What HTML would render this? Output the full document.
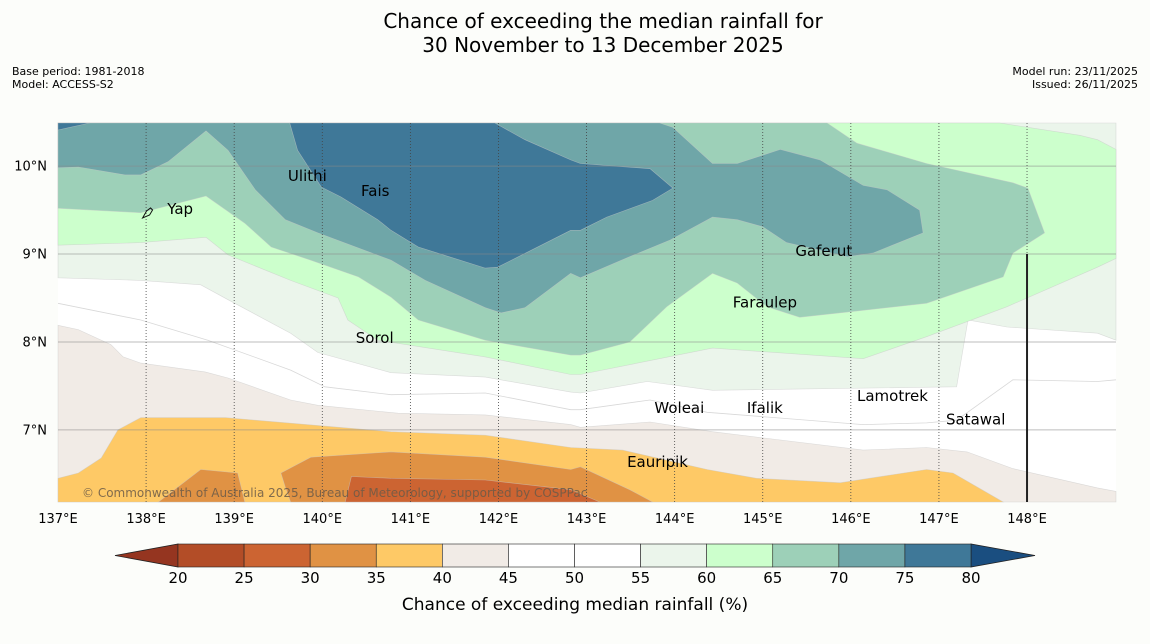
<!DOCTYPE html>
<html><head><meta charset="utf-8"><style>
html,body{margin:0;padding:0;background:#fcfdfa;}
svg{display:block;font-family:"DejaVu Sans","Liberation Sans",sans-serif;}
</style></head><body>
<svg id="chart" width="1150" height="644" viewBox="0 0 1150 644">
<rect width="1150" height="644" fill="#fcfdfa"/>
<text x="603" y="28" font-size="20" text-anchor="middle" fill="#000">Chance of exceeding the median rainfall for</text>
<text x="603" y="52" font-size="20" text-anchor="middle" fill="#000">30 November to 13 December 2025</text>
<text x="12" y="75" font-size="11" fill="#000">Base period: 1981-2018</text>
<text x="12" y="88" font-size="11" fill="#000">Model: ACCESS-S2</text>
<text x="1138" y="75" font-size="11" text-anchor="end" fill="#000">Model run: 23/11/2025</text>
<text x="1138" y="88" font-size="11" text-anchor="end" fill="#000">Issued: 26/11/2025</text>
<g id="map"></g>
<g id="cbar"></g>
</svg>
<script>
const NS="http://www.w3.org/2000/svg";
// axis extents
const lonMin=137, lonMax=149.01, latMin=6.18, latMax=10.49;
const lonTicks=[137,138,139,140,141,142,143,144,145,146,147,148];
const latTicks=[10,9,8,7];
const cbLevels=[20,25,30,35,40,45,50,55,60,65,70,75,80];
const cbColors=["#b34d27","#cc6432","#e09244","#fec966","#f1ebe6","#ffffff","#ffffff","#ebf5eb","#ccffcc","#9dd0b8","#6fa6a8","#3f7898"];
// contour regions [lon,lat]
const pale55=[[137,10.49],[149.01,10.49],[149.01,8.02],[148.80,8.10],[147.77,8.17],[147.33,8.25],[147.20,7.49],[144.43,7.45],[143.69,7.55],[142.93,7.42],[142.82,7.43],[141.85,7.60],[140.78,7.65],[139.95,7.88],[139.64,8.10],[138.93,8.48],[138.62,8.65],[137.94,8.70],[137,8.73]];
const green60=[[137,10.49],[147.69,10.49],[148.60,10.35],[148.80,10.30],[149.01,10.19],[149.01,8.95],[148.80,8.85],[147.77,8.40],[146.86,8.06],[146.14,7.81],[144.43,7.93],[142.93,7.63],[142.82,7.63],[141.85,7.83],[140.63,8.02],[140.29,8.25],[140.18,8.50],[139.64,8.70],[138.93,8.99],[138.68,9.19],[137.94,9.13],[137,9.10]];
const green65=[[137,10.49],[145.73,10.49],[146.07,10.26],[146.86,10.03],[147.84,9.81],[148.01,9.75],[148.20,9.24],[147.84,9.01],[147.73,8.74],[146.86,8.44],[145.96,8.34],[145.42,8.28],[145.05,8.40],[144.71,8.67],[144.43,8.78],[143.91,8.40],[143.49,8.00],[142.93,7.85],[142.82,7.85],[141.85,8.02],[141.09,8.25],[140.78,8.51],[140.41,8.74],[139.87,8.93],[139.42,9.08],[139.12,9.35],[138.68,9.66],[137.94,9.47],[137,9.52]];
const teal70=[[137,10.49],[143.83,10.49],[143.98,10.44],[144.43,10.03],[144.71,10.03],[145.20,10.19],[145.65,10.07],[146.14,9.78],[146.41,9.73],[146.78,9.50],[146.82,9.24],[146.25,9.01],[145.96,8.97],[145.27,9.13],[145.00,9.31],[144.71,9.39],[144.43,9.42],[143.95,9.16],[143.49,8.97],[142.93,8.73],[142.82,8.78],[142.30,8.39],[142.03,8.33],[141.85,8.39],[141.17,8.70],[140.78,8.93],[139.95,9.24],[139.58,9.39],[139.24,9.73],[138.93,10.18],[138.68,10.40],[138.25,10.05],[137.94,9.90],[137.76,9.90],[137.23,9.99],[137,9.98]];
const blue75=[[139.63,10.49],[141.96,10.49],[142.30,10.30],[142.82,10.07],[142.93,10.03],[143.72,9.97],[143.98,9.75],[143.75,9.61],[143.23,9.42],[142.93,9.27],[142.82,9.27],[141.99,8.85],[141.85,8.84],[141.09,9.08],[140.78,9.27],[140.63,9.39],[140.21,9.65],[139.99,9.76],[139.72,10.18]];
const blue75b=[[137,10.49],[137.36,10.49],[137,10.41]];
const beige40=[[137,8.19],[137.23,8.14],[137.60,7.97],[137.74,7.83],[137.94,7.76],[138.67,7.66],[138.93,7.59],[139.64,7.34],[139.95,7.28],[140.86,7.19],[141.85,7.17],[142.82,7.06],[142.93,7.03],[143.72,7.09],[144.43,6.98],[146.14,6.77],[146.86,6.80],[147.32,6.75],[147.84,6.56],[148.80,6.34],[149.01,6.30],[149.01,6.18],[137,6.18]];
const yellow35=[[137,6.45],[137.23,6.51],[137.49,6.68],[137.68,7.00],[137.94,7.14],[138.90,7.14],[140.78,6.98],[141.85,6.94],[142.82,6.80],[143.41,6.77],[144.37,6.55],[144.93,6.45],[145.88,6.40],[146.86,6.55],[147.16,6.51],[147.73,6.18],[137,6.18]];
const orange30a=[[138.14,6.18],[138.62,6.55],[139.04,6.51],[139.12,6.18]];
const orange30b=[[139.64,6.18],[139.58,6.35],[139.53,6.51],[139.87,6.69],[140.78,6.75],[141.85,6.69],[142.82,6.55],[142.93,6.58],[143.49,6.32],[143.75,6.18]];
const orange25=[[140.26,6.18],[140.33,6.47],[140.78,6.45],[141.85,6.43],[142.82,6.32],[143.15,6.18]];
const line50=[[137,8.44],[137.94,8.25],[138.70,8.02],[139.64,7.68],[140.03,7.49],[140.78,7.40],[141.85,7.42],[142.82,7.23],[142.93,7.23],[143.72,7.34],[144.37,7.20],[146.14,7.06],[146.86,7.08],[147.2,7.11],[147.84,7.57],[148.80,7.55],[149.01,7.57]];
const places=["Ulithi","Fais","Yap","Gaferut","Faraulep","Sorol","Lamotrek","Woleai","Ifalik","Satawal","Eauripik"];
const placeLon=[139.61,140.44,138.24,145.37,144.66,140.38,146.07,143.77,144.82,147.08,143.46];
const placeLat=[9.83,9.66,9.455,8.98,8.39,7.99,7.33,7.19,7.19,7.06,6.58];

const X=lon=>58+(lon-lonMin)*(1116-58)/(lonMax-lonMin);
const Y=lat=>123+(latMax-lat)*(502-123)/(latMax-latMin);
const map=document.getElementById('map');
function mk(tag,attrs,parent){const e=document.createElementNS(NS,tag);for(const k in attrs)e.setAttribute(k,attrs[k]);(parent||map).appendChild(e);return e;}
const pts=a=>a.map(p=>X(p[0]).toFixed(1)+','+Y(p[1]).toFixed(1)).join(' ');

let bg=mk('rect',{x:X(lonMin),y:Y(latMax),width:X(lonMax)-X(lonMin),height:Y(latMin)-Y(latMax),fill:'#ffffff'});


const layers=[[pale55,cbColors[7],'region-55-60'],[green60,cbColors[8],'region-60-65'],[green65,cbColors[9],'region-65-70'],[teal70,cbColors[10],'region-70-75'],[blue75,cbColors[11],'region-75-80'],[blue75b,cbColors[11],'region-75-80-corner'],[beige40,cbColors[4],'region-40-45'],[yellow35,cbColors[3],'region-35-40'],[orange30a,cbColors[2],'region-30-35-west'],[orange30b,cbColors[2],'region-30-35'],[orange25,cbColors[1],'region-25-30']];
layers.forEach(l=>{
  const p=mk('polygon',{points:pts(l[0]),fill:l[1],stroke:'#c8c8c8','stroke-width':0.6,'stroke-opacity':0.6});
  
  
});
const cl=mk('polyline',{points:pts(line50),fill:'none',stroke:'#d8d8d8','stroke-width':0.8});


// gridlines
latTicks.forEach(v=>{
  const g=mk('line',{x1:X(lonMin),x2:X(lonMax),y1:Y(v),y2:Y(v),stroke:'#888','stroke-opacity':0.55,'stroke-width':1});
  
  
  const t=mk('text',{x:47,y:Y(v)+4.5,'font-size':13,'text-anchor':'end',fill:'#000'});
  t.textContent=v+'°N';
  
  
});
lonTicks.forEach(v=>{
  if(v>lonMin){
    const g=mk('line',{x1:X(v),x2:X(v),y1:Y(latMax),y2:Y(latMin),stroke:'#444','stroke-width':0.8,'stroke-dasharray':'1,2'});
    
    
  }
  const t=mk('text',{x:X(v),y:523,'font-size':13,'text-anchor':'middle',fill:'#000'});
  t.textContent=v+'°E';
  
  
});
const bl=mk('line',{x1:X(148),x2:X(148),y1:Y(9),y2:Y(latMin),stroke:'#222','stroke-width':2});


// yap island glyph
const yap=mk('path',{d:`M${X(137.96)} ${Y(9.41)} l4 -7 l4 -3 l2 2 l-3 5 z`,fill:'none',stroke:'#111','stroke-width':1});


places.forEach((n,i)=>{
  const t=mk('text',{x:X(placeLon[i]),y:Y(placeLat[i]),'font-size':15,fill:'#000'});
  t.textContent=n;
  
  
});
const cp=mk('text',{x:82,y:497,'font-size':12,fill:'#6b5a48','fill-opacity':0.85});
cp.textContent='© Commonwealth of Australia 2025, Bureau of Meteorology, supported by COSPPac';



// colorbar
const cb=document.getElementById('cbar');
const CX=v=>178+(v-20)*(971-178)/60;
const cy0=544,cy1=567;
const lt=mk('polygon',{points:`${CX(20)},${cy0} ${CX(20)},${cy1} 115,${(cy0+cy1)/2}`,fill:'#953520',stroke:'#222','stroke-width':0.8},cb);


const rt=mk('polygon',{points:`${CX(80)},${cy0} ${CX(80)},${cy1} 1035,${(cy0+cy1)/2}`,fill:'#1a4e80',stroke:'#222','stroke-width':0.8},cb);


cbColors.forEach((c,i)=>{
  const r=mk('rect',{x:CX(cbLevels[i]),y:cy0,width:CX(cbLevels[i+1])-CX(cbLevels[i]),height:cy1-cy0,fill:c,stroke:'#222','stroke-width':0.6},cb);
  
  
});
cbLevels.forEach(v=>{
  const t=mk('text',{x:CX(v),y:583,'font-size':15,'text-anchor':'middle',fill:'#000'},cb);
  t.textContent=v;
  
  
});
const ct=mk('text',{x:575,y:610,'font-size':17,'text-anchor':'middle',fill:'#000'},cb);
ct.textContent='Chance of exceeding median rainfall (%)';


</script>
</body></html>
